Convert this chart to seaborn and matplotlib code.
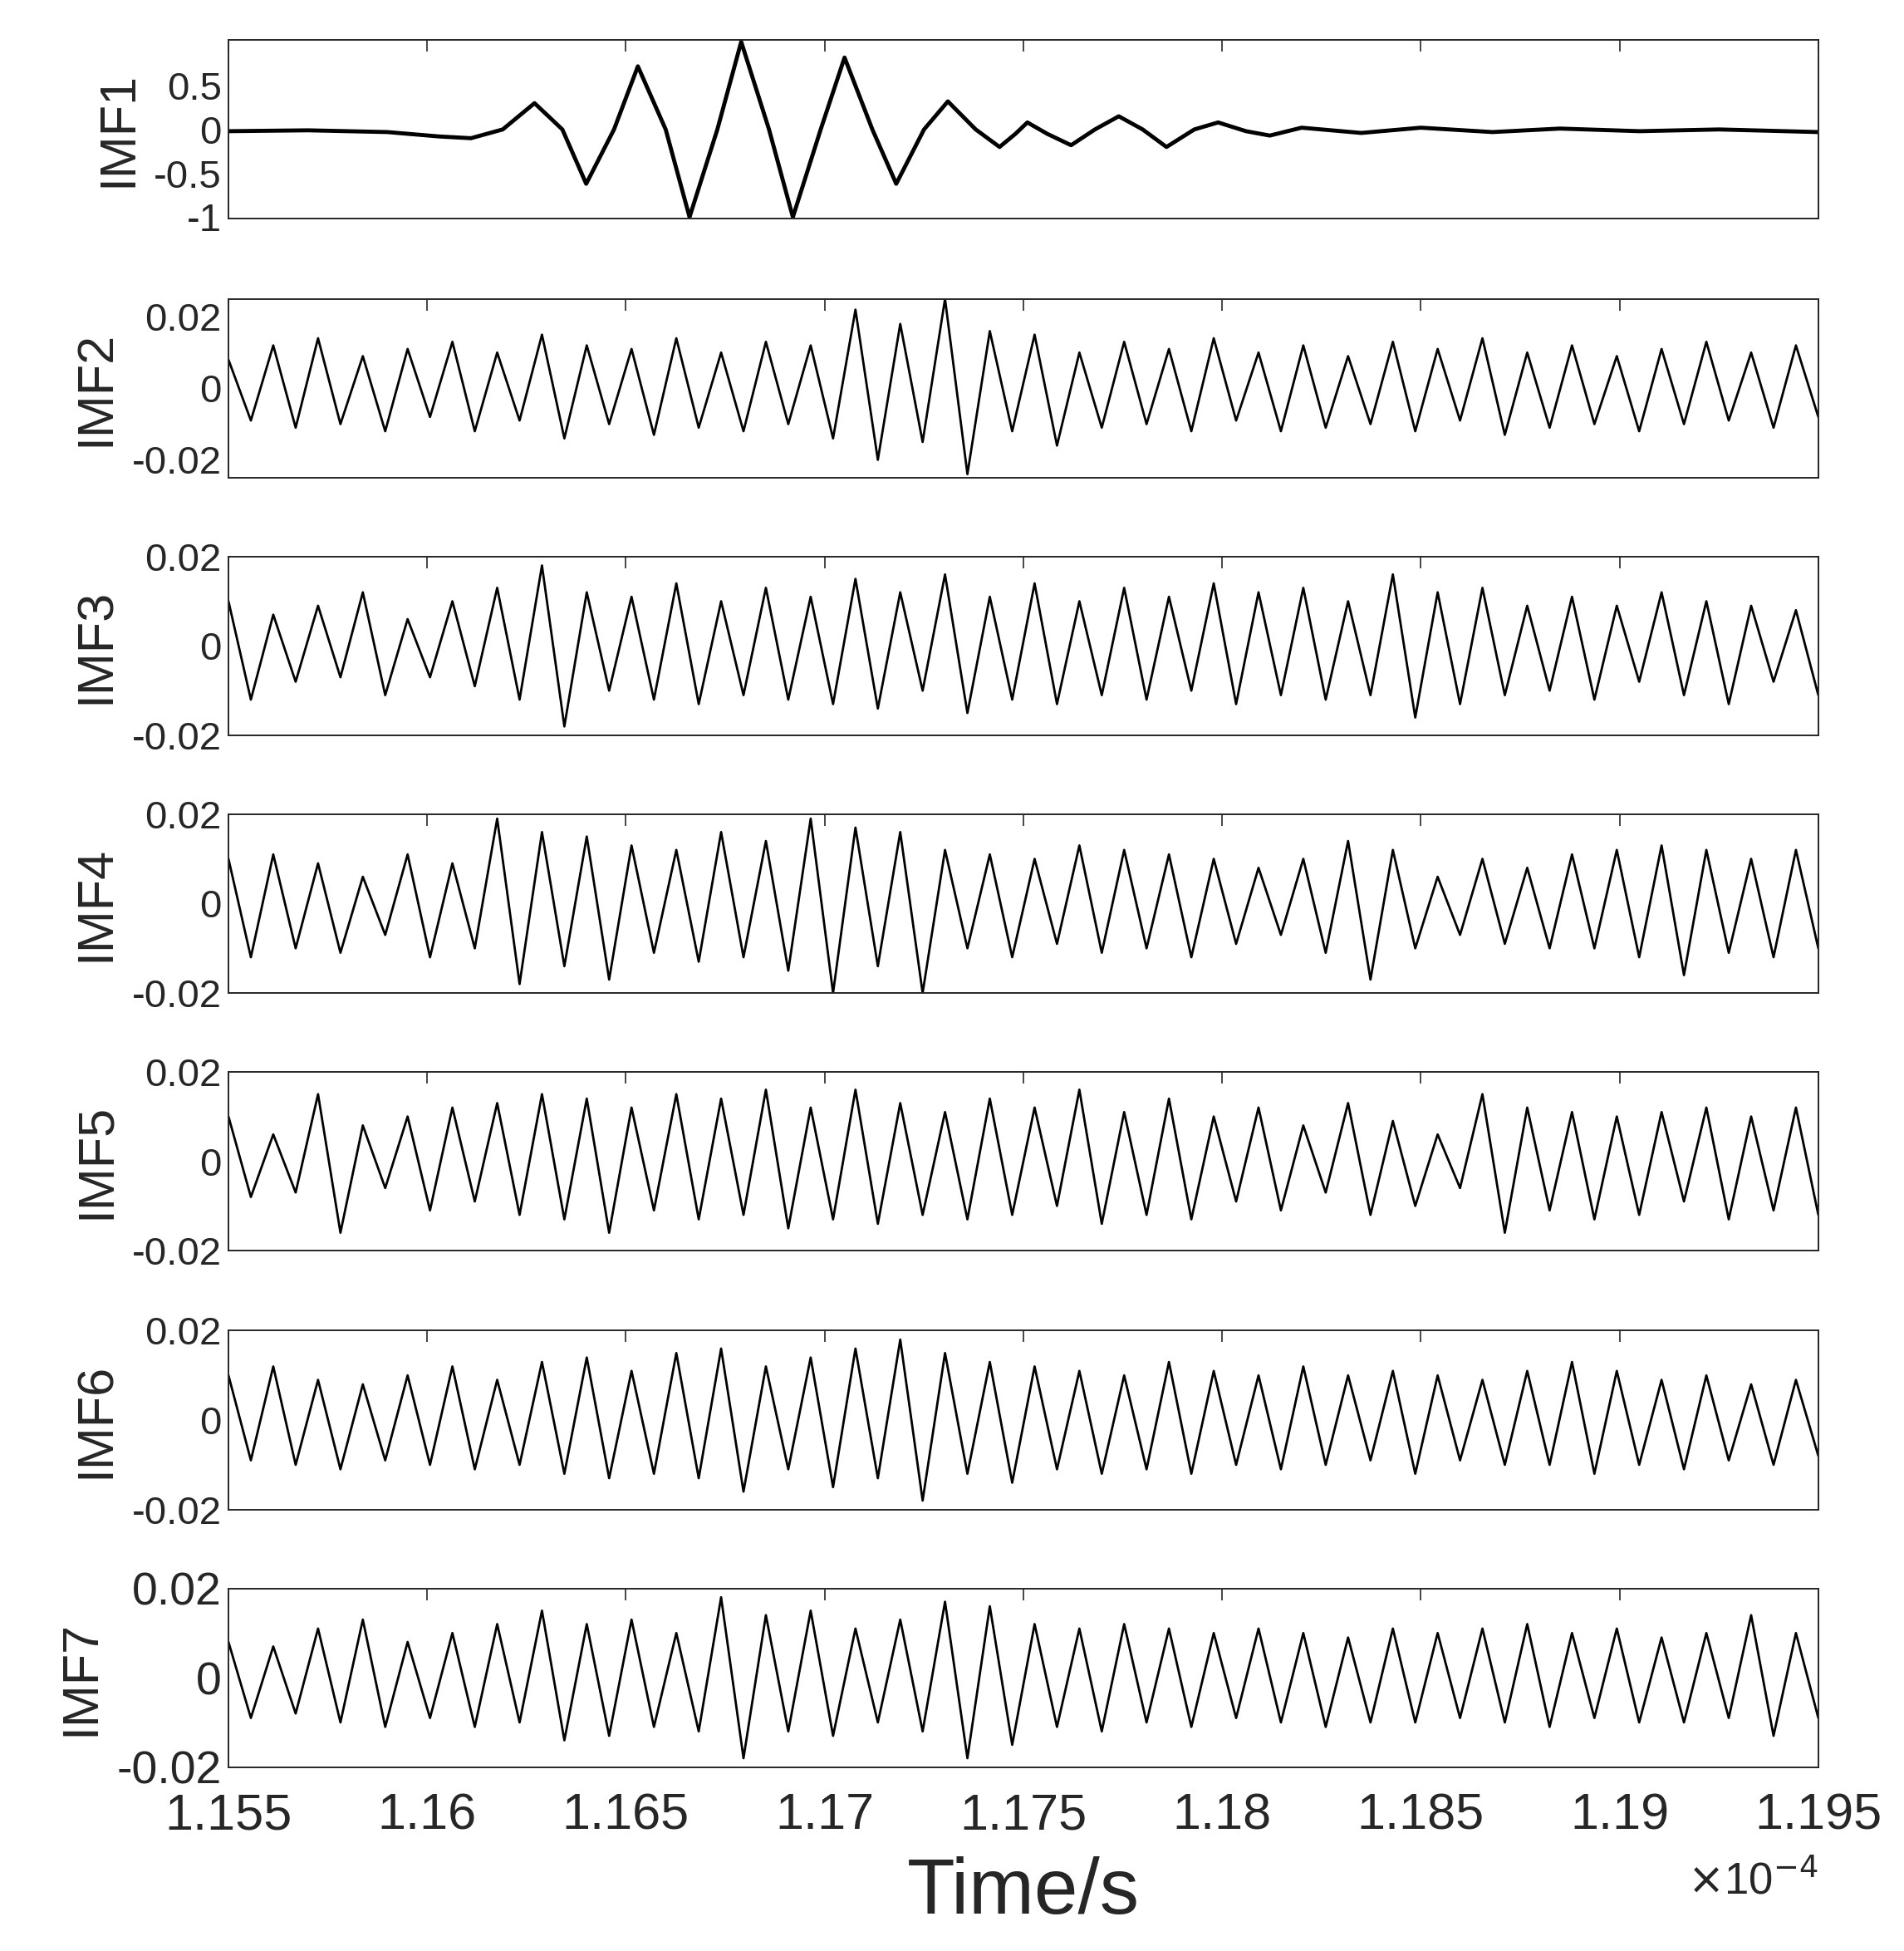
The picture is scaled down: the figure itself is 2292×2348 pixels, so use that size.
import numpy as np
import matplotlib
matplotlib.use("Agg")
import matplotlib.pyplot as plt
import seaborn as sns

sns.set_theme(style="white")
plt.rcParams['font.family'] = ['Liberation Sans', 'DejaVu Sans']

# time in units of 1e-4 s
imf1_t = [1.1550, 1.1570, 1.1590, 1.1603, 1.1611, 1.1619, 1.1627, 1.1634, 1.1640, 1.1647, 1.1653,
          1.1660, 1.1666, 1.1673, 1.1679, 1.1686, 1.1692, 1.1699, 1.1705, 1.1712, 1.1718,
          1.1725, 1.1731, 1.1738, 1.1744, 1.1748, 1.1751, 1.1756, 1.1762, 1.1768, 1.1774,
          1.1780, 1.1786, 1.1793, 1.1799, 1.1806, 1.1812, 1.1820, 1.1835, 1.1850, 1.1868,
          1.1885, 1.1905, 1.1925, 1.1950]
imf1_v = [-0.02, -0.01, -0.03, -0.08, -0.1, 0.0, 0.3, 0.0, -0.62, 0.0, 0.72,
          0.0, -1.0, 0.0, 1.0, 0.0, -1.0, 0.0, 0.82, 0.0, -0.62,
          0.0, 0.32, 0.0, -0.2, -0.05, 0.08, -0.05, -0.18, 0.0, 0.15,
          0.0, -0.2, 0.0, 0.08, -0.02, -0.07, 0.02, -0.04, 0.02, -0.03,
          0.01, -0.02, 0.0, -0.03]

imf2 = [0.008, -0.009, 0.012, -0.011, 0.014, -0.01, 0.009, -0.012, 0.011, -0.008, 0.013, -0.012,
        0.01, -0.009, 0.015, -0.014, 0.012, -0.01, 0.011, -0.013, 0.014, -0.011, 0.01, -0.012,
        0.013, -0.01, 0.012, -0.014, 0.022, -0.02, 0.018, -0.015, 0.025, -0.024, 0.016, -0.012,
        0.015, -0.016, 0.01, -0.011, 0.013, -0.01, 0.011, -0.012, 0.014, -0.009, 0.01, -0.012,
        0.012, -0.011, 0.009, -0.01, 0.013, -0.012, 0.011, -0.009, 0.014, -0.013, 0.01, -0.011,
        0.012, -0.01, 0.009, -0.012, 0.011, -0.01, 0.013, -0.009, 0.01, -0.011, 0.012, -0.008]

imf3 = [0.01, -0.012, 0.007, -0.008, 0.009, -0.007, 0.012, -0.011, 0.006, -0.007, 0.01, -0.009,
        0.013, -0.012, 0.018, -0.018, 0.012, -0.01, 0.011, -0.012, 0.014, -0.013, 0.01, -0.011,
        0.013, -0.012, 0.011, -0.013, 0.015, -0.014, 0.012, -0.01, 0.016, -0.015, 0.011, -0.012,
        0.014, -0.013, 0.01, -0.011, 0.013, -0.012, 0.011, -0.01, 0.014, -0.013, 0.012, -0.011,
        0.013, -0.012, 0.01, -0.011, 0.016, -0.016, 0.012, -0.013, 0.013, -0.011, 0.009, -0.01,
        0.011, -0.012, 0.009, -0.008, 0.012, -0.011, 0.01, -0.013, 0.009, -0.008, 0.008, -0.011]

imf4 = [0.01, -0.012, 0.011, -0.01, 0.009, -0.011, 0.006, -0.007, 0.011, -0.012, 0.009, -0.01,
        0.019, -0.018, 0.016, -0.014, 0.015, -0.017, 0.013, -0.011, 0.012, -0.013, 0.016, -0.012,
        0.014, -0.015, 0.019, -0.02, 0.017, -0.014, 0.016, -0.02, 0.012, -0.01, 0.011, -0.012,
        0.01, -0.009, 0.013, -0.011, 0.012, -0.01, 0.011, -0.012, 0.01, -0.009, 0.008, -0.007,
        0.01, -0.011, 0.014, -0.017, 0.012, -0.01, 0.006, -0.007, 0.01, -0.009, 0.008, -0.01,
        0.011, -0.01, 0.012, -0.012, 0.013, -0.016, 0.012, -0.011, 0.01, -0.012, 0.012, -0.01]

imf5 = [0.01, -0.008, 0.006, -0.007, 0.015, -0.016, 0.008, -0.006, 0.01, -0.011, 0.012, -0.009,
        0.013, -0.012, 0.015, -0.013, 0.014, -0.016, 0.012, -0.011, 0.015, -0.013, 0.014, -0.012,
        0.016, -0.015, 0.012, -0.013, 0.016, -0.014, 0.013, -0.012, 0.011, -0.013, 0.014, -0.012,
        0.012, -0.01, 0.016, -0.014, 0.011, -0.012, 0.014, -0.013, 0.01, -0.009, 0.012, -0.011,
        0.008, -0.007, 0.013, -0.012, 0.009, -0.01, 0.006, -0.006, 0.015, -0.016, 0.012, -0.011,
        0.011, -0.013, 0.01, -0.012, 0.011, -0.009, 0.012, -0.013, 0.01, -0.011, 0.012, -0.012]

imf6 = [0.01, -0.009, 0.012, -0.01, 0.009, -0.011, 0.008, -0.009, 0.01, -0.01, 0.012, -0.011,
        0.009, -0.01, 0.013, -0.012, 0.014, -0.013, 0.011, -0.012, 0.015, -0.013, 0.016, -0.016,
        0.012, -0.011, 0.014, -0.015, 0.016, -0.013, 0.018, -0.018, 0.015, -0.012, 0.013, -0.014,
        0.012, -0.011, 0.011, -0.012, 0.01, -0.011, 0.013, -0.012, 0.011, -0.01, 0.01, -0.011,
        0.012, -0.01, 0.01, -0.009, 0.011, -0.012, 0.01, -0.009, 0.009, -0.01, 0.011, -0.01,
        0.013, -0.012, 0.011, -0.01, 0.009, -0.011, 0.01, -0.009, 0.008, -0.01, 0.009, -0.008]

imf7 = [0.008, -0.009, 0.007, -0.008, 0.011, -0.01, 0.013, -0.011, 0.008, -0.009, 0.01, -0.011,
        0.012, -0.01, 0.015, -0.014, 0.012, -0.013, 0.013, -0.011, 0.01, -0.012, 0.018, -0.018,
        0.014, -0.012, 0.015, -0.013, 0.011, -0.01, 0.013, -0.012, 0.017, -0.018, 0.016, -0.015,
        0.012, -0.011, 0.011, -0.012, 0.012, -0.01, 0.011, -0.011, 0.01, -0.009, 0.011, -0.01,
        0.01, -0.011, 0.009, -0.01, 0.011, -0.01, 0.01, -0.009, 0.011, -0.01, 0.012, -0.011,
        0.01, -0.009, 0.011, -0.01, 0.009, -0.01, 0.01, -0.009, 0.014, -0.013, 0.01, -0.009]

labels = ["IMF1", "IMF2", "IMF3", "IMF4", "IMF5", "IMF6", "IMF7"]
noise = [imf2, imf3, imf4, imf5, imf6, imf7]
xticks = [1.155, 1.16, 1.165, 1.17, 1.175, 1.18, 1.185, 1.19, 1.195]
xtick_labels = ["1.155", "1.16", "1.165", "1.17", "1.175", "1.18", "1.185", "1.19", "1.195"]

fig = plt.figure(figsize=(22.92, 23.48), dpi=100)
left, width = 0.12, 0.835
H = 1560.0
tops = [32, 239, 445, 651, 857, 1064, 1270]
height = 143 / H
dark = "#262626"

for i, lab in enumerate(labels):
    ax = fig.add_axes([left, 1 - (tops[i] + 143) / H, width, height])
    if i == 0:
        sns.lineplot(x=imf1_t, y=imf1_v, ax=ax, color="black", linewidth=3.5)
        ax.set_ylim(-1.02, 1.02)
        ax.set_yticks([-1, -0.5, 0, 0.5])
        ax.set_yticklabels(["-1", "-0.5", "0", "0.5"])
    else:
        vals = noise[i - 1]
        t = np.linspace(1.155, 1.195, len(vals))
        sns.lineplot(x=t, y=vals, ax=ax, color="black", linewidth=2)
        lim = 0.025 if i == 1 else 0.02
        ax.set_ylim(-lim, lim)
        ax.set_yticks([-0.02, 0, 0.02])
        ax.set_yticklabels(["-0.02", "0", "0.02"])
    ax.set_xlim(1.155, 1.195)
    ax.set_xticks(xticks)
    ax.tick_params(direction="in", length=10, width=1.2, top=True, right=False,
                   labelsize=34 if i < 6 else 40, colors=dark, pad=6)
    if i < 6:
        ax.set_xticklabels([])
    else:
        ax.set_xticklabels(xtick_labels, fontsize=44)
        ax.tick_params(axis="x", pad=22)
    for s in ax.spines.values():
        s.set_color(dark)
        s.set_linewidth(1.4)
    ax.set_ylabel(lab, fontsize=44, color=dark, labelpad=10)
    if i == 6:
        ax.set_xlabel("Time/s", fontsize=68, color=dark, labelpad=14)
        ax.text(1.0, -0.52, r"$\times$10$^{-4}$", transform=ax.transAxes, ha="right",
                va="top", fontsize=38, color=dark)

fig.savefig("out.png", dpi=100)
